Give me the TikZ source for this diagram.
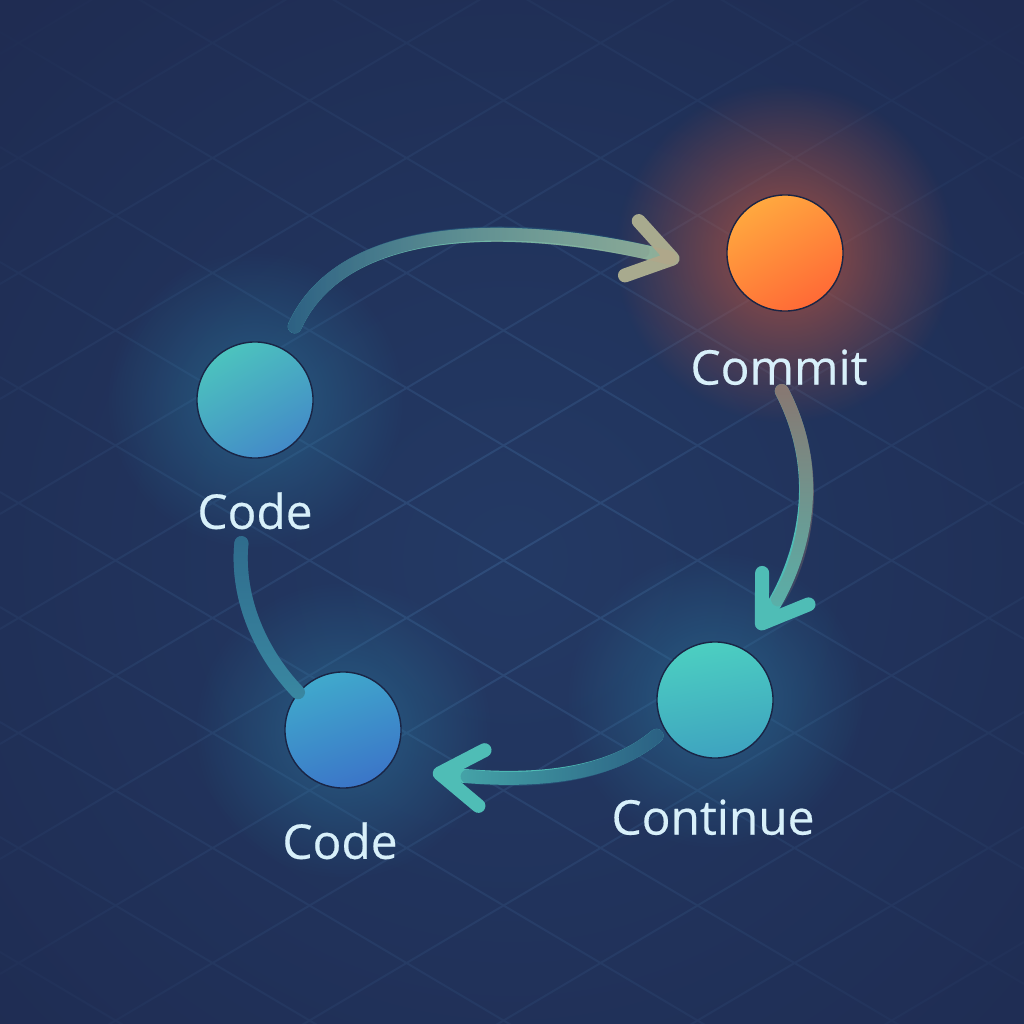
\documentclass[tikz,border=0pt]{standalone}
\usepackage{fontspec}
\setmainfont{Open Sans}[FakeBold=0.4]
\usetikzlibrary{arrows.meta, positioning, fadings}

\definecolor{bgmid}{HTML}{243A65}
\definecolor{bgout}{HTML}{1F2C52}
\definecolor{gridcol}{HTML}{2F4D7B}
\definecolor{rimcol}{HTML}{1A2545}
\definecolor{lbltext}{HTML}{D8F0FA}
\definecolor{flowteal}{HTML}{4FBDB6}
\definecolor{flowdim}{HTML}{2A5E82}
\definecolor{flowtan}{HTML}{B4A688}
\definecolor{flowbrown}{HTML}{8A7670}
\definecolor{flowblue}{HTML}{3A88A2}
\definecolor{tipgrey}{HTML}{A8AA8E}
\definecolor{glowteal}{HTML}{2D84AA}
\definecolor{glowred}{HTML}{C8583C}
\definecolor{codetop}{HTML}{4CC3BE}
\definecolor{codebot}{HTML}{438AC8}
\definecolor{committop}{HTML}{FFA83F}
\definecolor{commitbot}{HTML}{FF6A36}
\definecolor{conttop}{HTML}{4CCFC1}
\definecolor{contbot}{HTML}{3EA3C0}
\definecolor{codebtop}{HTML}{40A9CC}
\definecolor{codebbot}{HTML}{3B75C8}

\tikzfading[name=glow, inner color=transparent!0, outer color=transparent!100]
\tikzfading[name=vignette, inner color=transparent!100, outer color=transparent!0]
\tikzfading[name=tipfade, left color=transparent!100, middle color=transparent!100, right color=transparent!25]

\tikzstyle{stage} = [circle, minimum size=1.16cm, inner sep=0pt, draw=rimcol, line width=0.4pt]
\tikzstyle{stagelabel} = [text=lbltext, font=\fontsize{13.6}{16}\selectfont, inner sep=0pt]
\tikzstyle{gridline} = [gridcol, line width=0.02cm]
\tikzstyle{flow} = [line width=0.14cm, line cap=round]
\tikzstyle{flowtip} = [-{Straight Barb[length=0.42cm, width=0.56cm, round]}]

\begin{document}
\begin{tikzpicture}[x=0.01cm, y=-0.01cm]
    \useasboundingbox (0,0) rectangle (1024,1024);
    \clip (0,0) rectangle (1024,1024);
    % background and grid
    \fill[bgmid] (0,0) rectangle (1024,1024);
    \foreach \c in {-543,-428,...,952}
        \draw[gridline] (0,\c) -- (1024,\c+607);
    \foreach \c in {54,169,...,1549}
        \draw[gridline] (0,\c) -- (1024,\c-607);
    \fill[bgout, path fading=vignette] (512,560) circle (760);
    % glows
    \fill[glowteal, fill opacity=0.5, path fading=glow] (255,400) circle (150);
    \fill[glowred, fill opacity=0.75, path fading=glow] (785,253) circle (170);
    \fill[glowteal, fill opacity=0.5, path fading=glow] (715,700) circle (150);
    \fill[glowteal, fill opacity=0.5, path fading=glow] (343,730) circle (150);
    % stages
    \node (code) [stage, top color=codetop, bottom color=codebot, shading angle=30] at (255,400) {};
    \node (commit) [stage, top color=committop, bottom color=commitbot, shading angle=30] at (785,253) {};
    \node (cont) [stage, top color=conttop, bottom color=contbot, shading angle=10] at (715,700) {};
    \node (codeb) [stage, top color=codebtop, bottom color=codebbot, shading angle=20] at (343,730) {};
    \node (codelbl) [stagelabel, below=0.33cm of code] {Code};
    \node (commitlbl) [stagelabel, below=0.37cm of commit, xshift=-0.06cm] {Commit};
    \node (contlbl) [stagelabel, below=0.40cm of cont, xshift=-0.02cm] {Continue};
    \node (codeblbl) [stagelabel, below=0.33cm of codeb, xshift=-0.03cm] {Code};
    % flows
    \draw[flow, flowteal, -{Straight Barb[length=0.42cm, width=0.56cm, round, color=tipgrey]}, shorten <=0.25cm, shorten >=0.52cm]
        (code.60) .. controls (350,205) and (560,230) .. (commit.200);
    \draw[flow, flowdim, path fading=east, shorten <=0.25cm, shorten >=0.9cm]
        (code.60) .. controls (350,205) and (560,230) .. (commit.200);
    \draw[flow, flowtan, path fading=tipfade, shorten <=0.25cm, shorten >=0.62cm]
        (code.60) .. controls (350,205) and (560,230) .. (commit.200);
    \draw[flow, flowtip, flowteal, shorten <=0.06cm, shorten >=0.24cm]
        (commitlbl.south) .. controls (828,480) and (800,567) .. (cont.60);
    \draw[flow, flowbrown, path fading=south, shorten <=0.06cm, shorten >=0.6cm]
        (commitlbl.south) .. controls (828,480) and (800,567) .. (cont.60);
    \draw[flow, flowtip, flowteal, shorten <=0.1cm, shorten >=0.45cm]
        (cont.210) .. controls (610,775) and (536,784) .. (codeb.-40);
    \draw[flow, flowdim, path fading=west, shorten <=0.1cm, shorten >=0.8cm]
        (cont.210) .. controls (610,775) and (536,784) .. (codeb.-40);
    \draw[flow, flowblue, shorten >=0.85cm]
        (codeb.140) .. controls (262,655) and (236,600) .. (code);
    \draw[flow, flowdim, path fading=south, shorten >=0.85cm]
        (codeb.140) .. controls (262,655) and (236,600) .. (code);
\end{tikzpicture}
\end{document}
